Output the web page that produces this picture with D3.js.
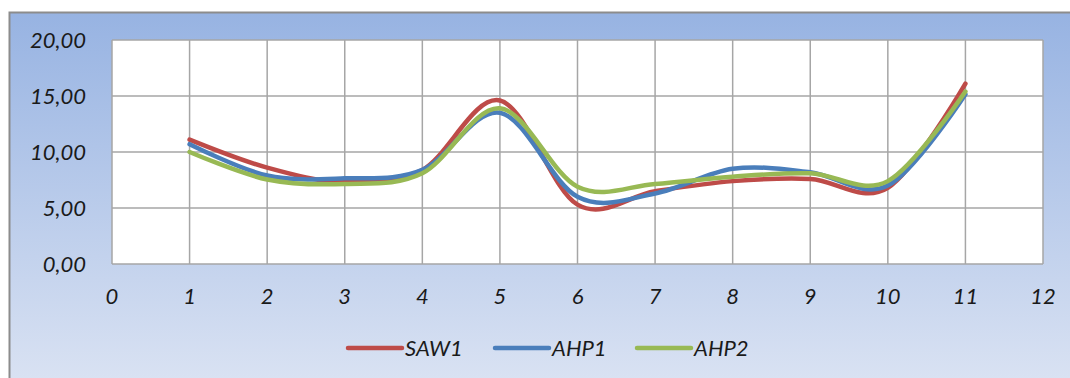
<!DOCTYPE html>
<html><head><meta charset="utf-8">
<script src="https://cdn.jsdelivr.net/npm/d3@7"></script>
<style>html,body{margin:0;padding:0;background:#fff;overflow:hidden}</style>
</head><body>
<svg id="c" width="1070" height="378"></svg>
<script>
const xValues = [1,2,3,4,5,6,7,8,9,10,11];
const saw1 = [11.1, 8.6, 7.3, 8.4, 14.6, 5.3, 6.5, 7.4, 7.6, 6.8, 16.1];
const ahp1 = [10.7, 7.9, 7.65, 8.4, 13.5, 6.0, 6.3, 8.5, 8.2, 7.0, 15.15];
const ahp2 = [10.0, 7.55, 7.15, 8.1, 13.9, 6.9, 7.15, 7.8, 8.1, 7.4, 15.4];
const seriesNames = ["SAW1", "AHP1", "AHP2"];
const seriesColors = ["#be4b48", "#4a7ebb", "#98b954"];
const yTicks = [0, 5, 10, 15, 20];
const xTicks = [0,1,2,3,4,5,6,7,8,9,10,11,12];

const svg = d3.select("#c");
const defs = svg.append("defs");
const g = defs.append("linearGradient").attr("id","bg").attr("x1",0).attr("y1",0).attr("x2",0).attr("y2",1);
g.append("stop").attr("offset","0%").attr("stop-color","#97b3e2");
g.append("stop").attr("offset","100%").attr("stop-color","#dfe6f4");

svg.append("rect").attr("x",9.5).attr("y",12.5).attr("width",1080).attr("height",400)
  .attr("fill","url(#bg)").attr("stroke","#8c8c8c").attr("stroke-width",2);

const L=112, R=1043, T=40, B=264;
const x = d3.scaleLinear().domain([0,12]).range([L,R]);
const y = d3.scaleLinear().domain([0,20]).range([B,T]);

svg.append("rect").attr("x",L).attr("y",T).attr("width",R-L).attr("height",B-T).attr("fill","#fff");

const grid = svg.append("g").attr("stroke","#a6a6a6").attr("stroke-width",1.5);
xTicks.forEach(t=>grid.append("line").attr("x1",x(t)).attr("x2",x(t)).attr("y1",T).attr("y2",B));
yTicks.forEach(t=>grid.append("line").attr("x1",L).attr("x2",R).attr("y1",y(t)).attr("y2",y(t)));

const font = "Lato, 'Open Sans', sans-serif";
const fmt = v => d3.format(".2f")(v).replace(".", ",");
svg.append("g").selectAll("text").data(yTicks).join("text")
  .attr("x",86).attr("y",d=>y(d)).attr("dy","0.35em").attr("text-anchor","end")
  .attr("font-family",font).attr("font-style","italic").attr("font-size",22).attr("fill","#1a1a1a")
  .text(fmt);
svg.append("g").selectAll("text").data(xTicks).join("text")
  .attr("x",d=>x(d)).attr("y",296).attr("dy","0.35em").attr("text-anchor","middle")
  .attr("font-family",font).attr("font-style","italic").attr("font-size",22).attr("fill","#1a1a1a")
  .text(d=>d);

const allSeries = [saw1, ahp1, ahp2];
const line = d3.line().x((d,i)=>x(xValues[i])).y(d=>y(d)).curve(d3.curveCatmullRom.alpha(0));
allSeries.forEach((s,k)=>{
  svg.append("path").datum(s).attr("d",line).attr("fill","none")
    .attr("stroke",seriesColors[k]).attr("stroke-width",4.5).attr("stroke-linecap","round");
});

const legX = [348, 495, 637];
seriesNames.forEach((n,k)=>{
  svg.append("line").attr("x1",legX[k]).attr("x2",legX[k]+54).attr("y1",348).attr("y2",348)
    .attr("stroke",seriesColors[k]).attr("stroke-width",4.5).attr("stroke-linecap","round");
  svg.append("text").attr("x",legX[k]+57).attr("y",348).attr("dy","0.35em")
    .attr("font-family",font).attr("font-style","italic").attr("font-size",22).attr("fill","#1a1a1a").text(n);
});
</script>
</body></html>
